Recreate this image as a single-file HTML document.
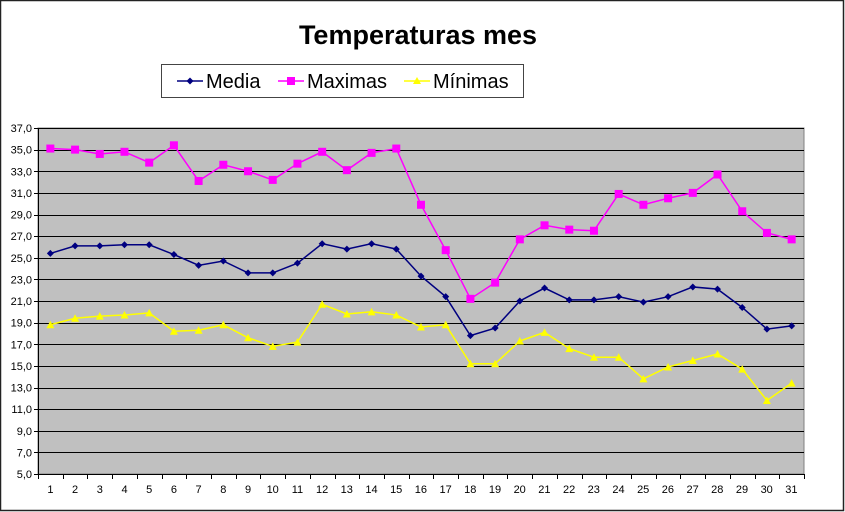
<!DOCTYPE html>
<html><head><meta charset="utf-8"><style>
html,body{margin:0;padding:0;background:#fff}
svg{display:block}
text{font-family:"Liberation Sans",Arial,sans-serif}
</style></head><body>
<svg id="s" width="845" height="512" xmlns="http://www.w3.org/2000/svg">
<rect x="0.5" y="0.5" width="843" height="510" fill="#fff" stroke="#222" stroke-width="1.5"/>
<text x="418" y="44" font-size="27" font-weight="bold" text-anchor="middle">Temperaturas mes</text>
<rect x="161.5" y="64.5" width="362" height="33" fill="#fff" stroke="#444"/>
<line x1="177" y1="81" x2="203" y2="81" stroke="#000080" stroke-width="1.5"/>
<polygon points="190,77.5 193.5,81 190,84.5 186.5,81" fill="#000080"/>
<text x="206" y="88" font-size="20">Media</text>
<line x1="278" y1="81" x2="304" y2="81" stroke="#ff00ff" stroke-width="1.5"/>
<rect x="287" y="77" width="8" height="8" fill="#ff00ff"/>
<text x="307" y="88" font-size="20">Maximas</text>
<line x1="404" y1="81" x2="430" y2="81" stroke="#ffff00" stroke-width="1.5"/>
<polygon points="417,77 421,84 413,84" fill="#ffff00"/>
<text x="433" y="88" font-size="20">Mínimas</text>
<rect x="38" y="128" width="766" height="346" fill="#c0c0c0" stroke="#808080"/>
<g id="grid" stroke="#000" stroke-width="1"></g>
<g font-size="11" text-anchor="end">
<text x="32" y="132">37,0</text><text x="32" y="153.6">35,0</text><text x="32" y="175.3">33,0</text><text x="32" y="196.9">31,0</text><text x="32" y="218.5">29,0</text><text x="32" y="240.1">27,0</text><text x="32" y="261.8">25,0</text><text x="32" y="283.4">23,0</text><text x="32" y="305">21,0</text><text x="32" y="326.6">19,0</text><text x="32" y="348.3">17,0</text><text x="32" y="369.9">15,0</text><text x="32" y="391.5">13,0</text><text x="32" y="413.1">11,0</text><text x="32" y="434.8">9,0</text><text x="32" y="456.4">7,0</text><text x="32" y="478">5,0</text>
</g>
<g font-size="11" text-anchor="middle">
<text x="50.4" y="493">1</text><text x="75.1" y="493">2</text><text x="99.8" y="493">3</text><text x="124.5" y="493">4</text><text x="149.2" y="493">5</text><text x="173.9" y="493">6</text><text x="198.6" y="493">7</text><text x="223.3" y="493">8</text><text x="248" y="493">9</text><text x="272.7" y="493">10</text><text x="297.4" y="493">11</text><text x="322.1" y="493">12</text><text x="346.8" y="493">13</text><text x="371.5" y="493">14</text><text x="396.2" y="493">15</text><text x="420.9" y="493">16</text><text x="445.6" y="493">17</text><text x="470.3" y="493">18</text><text x="495" y="493">19</text><text x="519.7" y="493">20</text><text x="544.4" y="493">21</text><text x="569.1" y="493">22</text><text x="593.8" y="493">23</text><text x="618.5" y="493">24</text><text x="643.2" y="493">25</text><text x="667.9" y="493">26</text><text x="692.6" y="493">27</text><text x="717.3" y="493">28</text><text x="742" y="493">29</text><text x="766.7" y="493">30</text><text x="791.4" y="493">31</text>
</g>
<g id="series"></g>
</svg>
<script>
var NS="http://www.w3.org/2000/svg";
function el(t,a,p){var e=document.createElementNS(NS,t);for(var k in a)e.setAttribute(k,a[k]);p.appendChild(e);return e;}
var g=document.getElementById('grid'),sg=document.getElementById('series');
var W=766/31;
function Y(v){return 474-(v-5)*346/32;}
function X(i){return 38+W*(i+0.5);}
for(var v=7;v<=37;v+=2){var y=Math.round(Y(v))+0.5;el('line',{x1:38,x2:804,y1:y,y2:y},g);}
for(var v=5;v<=37;v+=2){var y=Math.round(Y(v))+0.5;el('line',{x1:34,x2:38,y1:y,y2:y},g);}
el('line',{x1:38.5,x2:38.5,y1:128,y2:474},g);
el('line',{x1:38,x2:804,y1:474.5,y2:474.5},g);
for(var i=0;i<=31;i++){var x=Math.round(38+W*i)+0.5;el('line',{x1:x,x2:x,y1:474,y2:479},g);}
var mx=[35.1,35.0,34.6,34.8,33.8,35.4,32.1,33.6,33.0,32.2,33.7,34.8,33.1,34.7,35.1,29.9,25.7,21.2,22.7,26.7,28.0,27.6,27.5,30.9,29.9,30.5,31.0,32.7,29.3,27.3,26.7];
var md=[25.4,26.1,26.1,26.2,26.2,25.3,24.3,24.7,23.6,23.6,24.5,26.3,25.8,26.3,25.8,23.3,21.4,17.8,18.5,21.0,22.2,21.1,21.1,21.4,20.9,21.4,22.3,22.1,20.4,18.4,18.7];
var mn=[18.8,19.4,19.6,19.7,19.9,18.2,18.3,18.8,17.6,16.8,17.2,20.7,19.8,20.0,19.7,18.6,18.8,15.2,15.2,17.3,18.1,16.6,15.8,15.8,13.8,14.9,15.5,16.1,14.7,11.8,13.4];
function line(d,c){el('polyline',{points:d.map(function(v,i){return X(i)+','+Y(v)}).join(' '),fill:'none',stroke:c,'stroke-width':1.5},sg);}
line(md,'#000080');line(mx,'#ff00ff');line(mn,'#ffff00');
md.forEach(function(v,i){var x=X(i),y=Y(v);el('polygon',{points:[x,y-3.5,x+3.5,y,x,y+3.5,x-3.5,y].join(' '),fill:'#000080'},sg);});
mx.forEach(function(v,i){el('rect',{x:X(i)-4,y:Y(v)-4,width:8,height:8,fill:'#ff00ff'},sg);});
mn.forEach(function(v,i){var x=X(i),y=Y(v);el('polygon',{points:[x,y-4,x+4,y+3.5,x-4,y+3.5].join(' '),fill:'#ffff00'},sg);});
</script>
</body></html>
